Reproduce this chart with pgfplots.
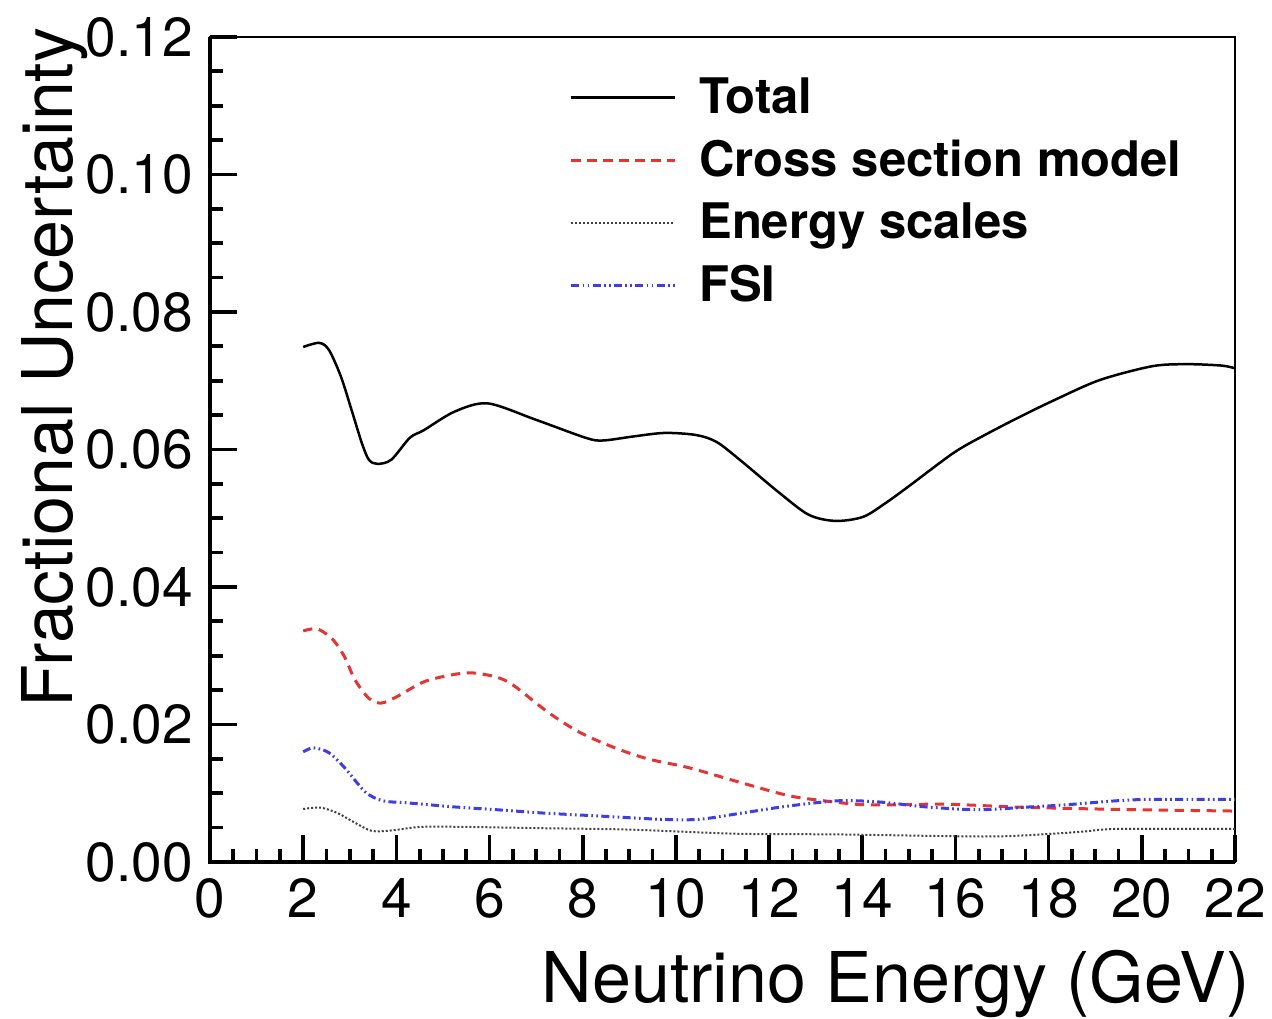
\documentclass[border=0pt]{standalone}
\usepackage{fontspec}
\setmainfont{TeX Gyre Heros}
\usepackage{pgfplots}
\pgfplotsset{compat=1.18}

\definecolor{xsred}{RGB}{228,52,52}
\definecolor{fsiblue}{RGB}{62,62,232}

\begin{document}
\begin{tikzpicture}
\begin{axis}[
  scale only axis,
  width=307.5pt, height=247.5pt,
  xmin=0, xmax=22, ymin=0, ymax=0.12,
  xtick={0,2,...,22}, minor x tick num=3,
  ytick={0,0.02,0.04,0.06,0.08,0.10,0.12}, minor y tick num=3,
  scaled y ticks=false,
  yticklabel style={/pgf/number format/fixed, /pgf/number format/fixed zerofill,
    /pgf/number format/precision=2},
  /pgf/number format/assume math mode=true,
  tick pos=left,
  tick align=inside,
  major tick length=8pt, minor tick length=4pt,
  every tick/.style={black, line width=1.1pt},
  axis line style={line width=0.6pt},
  tick label style={font=\fontsize{16.5}{18}\selectfont},
  xticklabel style={inner sep=0pt, yshift=-4.8pt},
  yticklabel style={inner sep=0pt, xshift=-5pt},
  xlabel={Neutrino Energy (GeV)},
  ylabel={Fractional Uncertainty},
  label style={font=\fontsize{21}{24}\selectfont},
  xlabel style={at={([xshift=4.5pt,yshift=-42.3pt]rel axis cs:1,0)}, anchor=base east, inner sep=0pt},
  ylabel style={at={([xshift=-41.4pt,yshift=3pt]rel axis cs:0,1)}, anchor=base east, inner sep=0pt},
  legend image code/.code={\draw[#1] (0pt,0pt) -- (31pt,0pt);},
  legend cell align=left,
  legend style={at={(rel axis cs:0.3405,0.968)}, anchor=north west, draw=none, fill=none,
    font=\bfseries\fontsize{14.7}{17}\selectfont, row sep=2.5pt, column sep=5pt},
  clip=false,
]

\addplot[black, line width=0.75pt, smooth] coordinates {
(2.0,0.0749) (2.34,0.0755) (2.55,0.0745) (2.81,0.0706) (3.04,0.0657)
(3.26,0.0609) (3.41,0.0585) (3.59,0.0579) (3.89,0.0585) (4.29,0.0617)
(4.59,0.0628) (5.25,0.0655) (5.96,0.0667) (7.0,0.0643) (8.06,0.0617)
(8.43,0.0613) (9.1,0.0619) (9.76,0.0624) (10.43,0.0621) (10.87,0.0611)
(11.37,0.0585) (12.2,0.0538) (12.85,0.0505) (13.43,0.0496) (14.02,0.0502)
(14.5,0.0522) (14.99,0.0546) (15.96,0.0595) (16.63,0.0621) (17.4,0.0648)
(18.13,0.0672) (19.1,0.0701) (20.22,0.0721) (20.96,0.0724) (21.71,0.0722)
(22.0,0.0718)
};
\addlegendentry{Total}

\addplot[xsred, line width=0.9pt, smooth, dash pattern=on 2.8pt off 2pt] coordinates {
(2.0,0.0336) (2.30,0.0339) (2.63,0.0324) (2.89,0.0298) (3.11,0.0265)
(3.41,0.0238) (3.67,0.0231) (4.0,0.0240) (4.59,0.0262) (5.18,0.0272)
(5.62,0.0275) (6.14,0.0269) (6.51,0.0257) (7.25,0.0218) (7.92,0.0189)
(8.65,0.0167) (9.39,0.0150) (10.28,0.0137) (11.31,0.0117) (12.38,0.0097)
(13.05,0.0090) (14.1,0.0083) (15.74,0.0084) (17.23,0.0080) (18.35,0.0078)
(19.84,0.0076) (22.0,0.0074)
};
\addlegendentry{Cross section model}

\addplot[black!75, line width=0.6pt, smooth, dash pattern=on 0.6pt off 0.6pt] coordinates {
(2.0,0.0077) (2.37,0.0079) (2.74,0.0071) (3.11,0.0057) (3.48,0.0045)
(3.92,0.0046) (4.52,0.0051) (5.40,0.0051) (7.18,0.0049) (9.02,0.0047)
(11.31,0.0041) (13.5,0.0040) (16.49,0.0037) (17.6,0.0039) (18.72,0.0044)
(19.47,0.0048) (22.0,0.0048)
};
\addlegendentry{Energy scales}

\addplot[fsiblue, line width=0.9pt, smooth,
  dash pattern=on 2.4pt off 1pt on 0.5pt off 1pt on 0.5pt off 1pt] coordinates {
(2.0,0.0160) (2.22,0.0166) (2.55,0.0159) (2.89,0.0137) (3.33,0.0102)
(3.70,0.0089) (4.22,0.0086) (5.25,0.0080) (6.14,0.0076) (7.18,0.0071)
(8.29,0.0067) (9.69,0.0062) (10.5,0.0062) (11.41,0.0071) (12.38,0.0081)
(13.5,0.0089) (14.4,0.0087) (15.37,0.0080) (16.49,0.0076) (17.6,0.0080)
(18.35,0.0083) (19.47,0.0089) (20.22,0.0091) (22.0,0.0091)
};
\addlegendentry{FSI}

% heavier left and bottom frame, as in the original
\draw[line width=1.2pt] (rel axis cs:0,1) -- (rel axis cs:0,0) -- (rel axis cs:1,0);
% page extent
\path (rel axis cs:-0.2049,-0.1855) rectangle (rel axis cs:1.0361,1.0448);
\end{axis}
\end{tikzpicture}
\end{document}
